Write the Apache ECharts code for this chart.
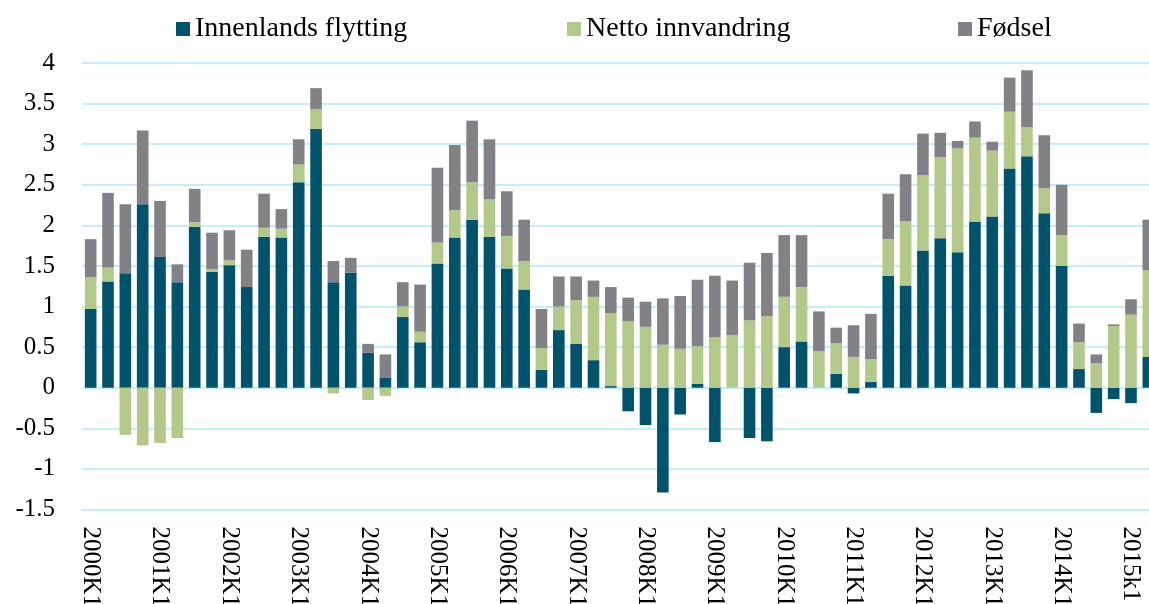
<!DOCTYPE html>
<html>
<head>
<meta charset="utf-8">
<script src="https://cdn.jsdelivr.net/npm/echarts@6/dist/echarts.min.js"></script>
<style>
html, body { margin: 0; padding: 0; background: #fff; }
#main { width: 1149px; height: 604px; }
</style>
</head>
<body>
<div id="main"></div>
<script>
var categories = [
    '2000K1', '2000K2', '2000K3', '2000K4',
    '2001K1', '2001K2', '2001K3', '2001K4',
    '2002K1', '2002K2', '2002K3', '2002K4',
    '2003K1', '2003K2', '2003K3', '2003K4',
    '2004K1', '2004K2', '2004K3', '2004K4',
    '2005K1', '2005K2', '2005K3', '2005K4',
    '2006K1', '2006K2', '2006K3', '2006K4',
    '2007K1', '2007K2', '2007K3', '2007K4',
    '2008K1', '2008K2', '2008K3', '2008K4',
    '2009K1', '2009K2', '2009K3', '2009K4',
    '2010K1', '2010K2', '2010K3', '2010K4',
    '2011K1', '2011K2', '2011K3', '2011K4',
    '2012K1', '2012K2', '2012K3', '2012K4',
    '2013K1', '2013K2', '2013K3', '2013K4',
    '2014K1', '2014K2', '2014K3', '2014K4',
    '2015k1', '2015k2'
];

// Innenlands flytting
var innenlands = [
    0.97, 1.31, 1.41, 2.26, 1.61, 1.30, 1.98, 1.43,
    1.51, 1.24, 1.86, 1.85, 2.53, 3.19, 1.30, 1.42,
    0.43, 0.12, 0.87, 0.56, 1.53, 1.85, 2.07, 1.86,
    1.47, 1.21, 0.22, 0.71, 0.54, 0.34, 0.02, -0.29,
    -0.46, -1.29, -0.33, 0.05, -0.67, 0, -0.62, -0.66,
    0.50, 0.57, 0, 0.17, -0.07, 0.07, 1.38, 1.26,
    1.69, 1.84, 1.67, 2.04, 2.11, 2.70, 2.85, 2.15,
    1.50, 0.23, -0.31, -0.14, -0.19, 0.38
];

// Netto innvandring
var netto = [
    0.39, 0.17, -0.58, -0.71, -0.68, -0.62, 0.06, 0.03,
    0.06, 0, 0.11, 0.11, 0.22, 0.24, -0.07, 0,
    -0.15, -0.10, 0.13, 0.13, 0.26, 0.34, 0.46, 0.46,
    0.40, 0.35, 0.27, 0.29, 0.54, 0.78, 0.90, 0.82,
    0.75, 0.53, 0.48, 0.46, 0.62, 0.65, 0.83, 0.88,
    0.62, 0.67, 0.45, 0.38, 0.38, 0.28, 0.45, 0.79,
    0.93, 1.00, 1.28, 1.04, 0.81, 0.70, 0.36, 0.31,
    0.38, 0.33, 0.30, 0.76, 0.90, 1.07
];

// Fødsel
var fodsel = [
    0.47, 0.92, 0.85, 0.91, 0.69, 0.22, 0.41, 0.45,
    0.37, 0.46, 0.42, 0.24, 0.31, 0.26, 0.26, 0.18,
    0.11, 0.29, 0.30, 0.58, 0.92, 0.80, 0.76, 0.74,
    0.55, 0.51, 0.48, 0.37, 0.29, 0.20, 0.32, 0.29,
    0.31, 0.57, 0.65, 0.82, 0.76, 0.67, 0.71, 0.78,
    0.76, 0.64, 0.49, 0.19, 0.39, 0.56, 0.56, 0.58,
    0.51, 0.30, 0.09, 0.20, 0.11, 0.42, 0.70, 0.65,
    0.62, 0.23, 0.11, 0.02, 0.19, 0.62
];

var seriesNames = ['Innenlands flytting', 'Netto innvandring', 'Fødsel'];
var colors = ['#00536b', '#b3c98a', '#828186'];
var legendLeft = [171, 562, 953];

var serif = '"Liberation Serif", "DejaVu Serif", serif';

var myChart = echarts.init(document.getElementById('main'));

var option = {
    animation: false,
    color: colors,
    legend: seriesNames.map(function (name, i) {
        return {
            data: [name],
            left: legendLeft[i],
            top: 10,
            icon: 'rect',
            itemWidth: 14,
            itemHeight: 14,
            itemGap: 0,
            textStyle: {
                fontFamily: serif,
                fontSize: 28,
                color: '#000'
            }
        };
    }),
    grid: {
        left: 82,
        top: 63,
        width: 1075,
        height: 446.5,
        outerBoundsMode: 'none',
        containLabel: false
    },
    xAxis: {
        type: 'category',
        data: categories,
        axisLine: { show: false },
        axisTick: { show: false },
        axisLabel: {
            interval: 3,
            rotate: -90,
            margin: 17,
            fontFamily: serif,
            fontSize: 25,
            color: '#000'
        }
    },
    yAxis: {
        type: 'value',
        min: -1.5,
        max: 4,
        interval: 0.5,
        axisLine: { show: false },
        axisTick: { show: false },
        axisLabel: {
            margin: 27,
            fontFamily: serif,
            fontSize: 25,
            color: '#000'
        },
        splitLine: {
            lineStyle: {
                color: '#aeeaf9',
                width: 1.5
            }
        }
    },
    series: [
        {
            name: seriesNames[0],
            type: 'bar',
            stack: 'total',
            barWidth: '67%',
            data: innenlands
        },
        {
            name: seriesNames[1],
            type: 'bar',
            stack: 'total',
            barWidth: '67%',
            data: netto
        },
        {
            name: seriesNames[2],
            type: 'bar',
            stack: 'total',
            barWidth: '67%',
            data: fodsel
        }
    ]
};

myChart.setOption(option);
</script>
</body>
</html>
